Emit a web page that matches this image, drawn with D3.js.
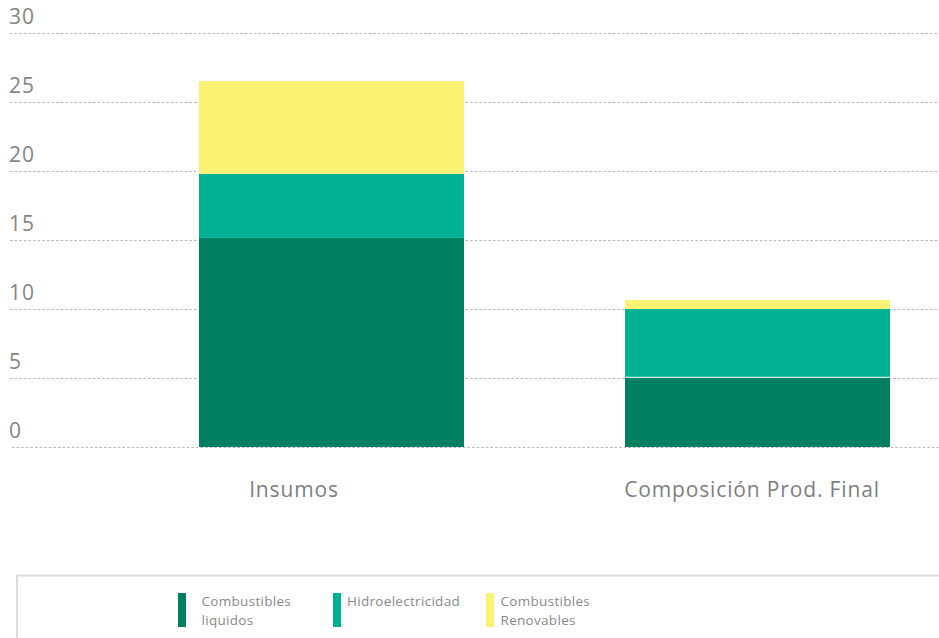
<!DOCTYPE html>
<html>
<head>
<meta charset="utf-8">
<script src="https://cdn.jsdelivr.net/npm/d3@7"></script>
<style>
  html, body { margin: 0; padding: 0; background: #fff; }
  svg { display: block; }
  text { font-family: "Open Sans", "Noto Sans", sans-serif; }
</style>
</head>
<body>
<svg id="chart" width="939" height="638"></svg>
<script>
// Categories and stacked series
const categories = ["Insumos", "Composición Prod. Final"];
const seriesNames = ["Combustibles liquidos", "Hidroelectricidad", "Combustibles Renovables"];
const combustiblesLiquidos = [15.15, 5.05];
const hidroelectricidad = [4.65, 4.95];
const combustiblesRenovables = [6.72, 0.65];
const yTicks = [0, 5, 10, 15, 20, 25, 30];
const colors = ["#008060", "#00b194", "#fbf173"];

const svg = d3.select("#chart");
const W = 939;

const y = d3.scaleLinear().domain([0, 30]).range([447, 33]);
const x = d3.scaleBand().domain(categories).range([199, 890]).paddingInner(0.378).paddingOuter(0);

// Gridlines with left-aligned tick labels above them
const grid = svg.append("g");
grid.selectAll("line").data(yTicks).join("line")
  .attr("x1", d => d === 0 ? 12 : 10).attr("x2", W)
  .attr("y1", d => Math.round(y(d)) + 0.5).attr("y2", d => Math.round(y(d)) + 0.5)
  .attr("stroke", "#b8b8b8").attr("stroke-width", 1.2)
  .attr("stroke-dasharray", "2.6,2");
grid.selectAll("text").data(yTicks).join("text")
  .attr("x", 9).attr("y", d => y(d) - 9)
  .attr("fill", "#858585").attr("font-size", 21).attr("letter-spacing", 1)
  .text(d => d);

// Stack the series
const rows = categories.map((c, i) => ({
  cat: c,
  [seriesNames[0]]: combustiblesLiquidos[i],
  [seriesNames[1]]: hidroelectricidad[i],
  [seriesNames[2]]: combustiblesRenovables[i]
}));
const stacked = d3.stack().keys(seriesNames)(rows);

svg.append("g").selectAll("g").data(stacked).join("g")
  .attr("fill", (d, i) => colors[i])
  .selectAll("rect").data(d => d).join("rect")
  .attr("x", d => x(d.data.cat))
  .attr("width", x.bandwidth())
  .attr("y", d => y(d[1]))
  .attr("height", d => y(d[0]) - y(d[1]));

// White separator on the second bar
svg.append("line")
  .attr("x1", x(categories[1]))
  .attr("x2", x(categories[1]) + x.bandwidth())
  .attr("y1", y(combustiblesLiquidos[1])).attr("y2", y(combustiblesLiquidos[1]))
  .attr("stroke", "#fff").attr("stroke-width", 1);

// Category labels
const labelShift = [-37.5, -5.5];
svg.append("g").selectAll("text").data(categories).join("text")
  .attr("x", (d, i) => x(d) + x.bandwidth() / 2 + labelShift[i])
  .attr("y", 497)
  .attr("text-anchor", "middle")
  .attr("fill", "#7f7f7f").attr("font-size", 21).attr("letter-spacing", 0.85)
  .text(d => d);

// Legend box
svg.append("path")
  .attr("d", `M17,638 V575.5 H${W}`)
  .attr("fill", "none").attr("stroke", "#dcdcdc").attr("stroke-width", 2);

const legendX = [178, 333, 486];
const legendTextX = [201.5, 347, 500.5];
const legendLines = [["Combustibles", "liquidos"], ["Hidroelectricidad"], ["Combustibles", "Renovables"]];
const lg = svg.append("g").selectAll("g").data(seriesNames).join("g");
lg.append("rect")
  .attr("x", (d, i) => legendX[i]).attr("y", 593)
  .attr("width", 8).attr("height", 34).attr("fill", (d, i) => colors[i]);
lg.each(function(d, i) {
  const t = d3.select(this).append("text")
    .attr("y", 606)
    .attr("fill", "#8a8a8a").attr("font-size", 13.5).attr("letter-spacing", 0.3);
  legendLines[i].forEach((s, k) => t.append("tspan").attr("x", legendTextX[i]).attr("dy", k ? 19 : 0).text(s));
});
</script>
</body>
</html>
